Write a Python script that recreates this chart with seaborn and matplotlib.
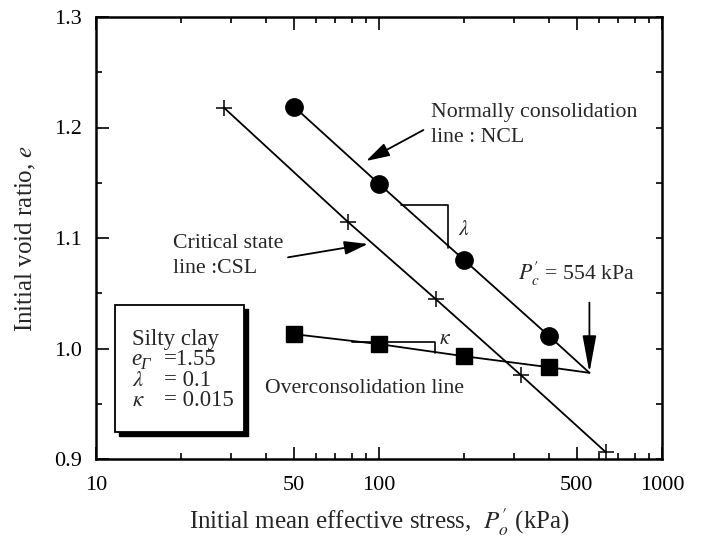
import numpy as np
import pandas as pd
import seaborn as sns
import matplotlib
matplotlib.use("Agg")
import matplotlib.pyplot as plt
from matplotlib.patches import Rectangle
from matplotlib.ticker import FixedLocator, NullFormatter, FixedFormatter

# ---------------- data ----------------
ncl_p = [50, 100, 200, 400]
ncl_e = [1.219, 1.149, 1.080, 1.011]
ocl_p = [50, 100, 200, 400]
ocl_e = [1.013, 1.004, 0.993, 0.983]
csl_p = [28.3, 77.7, 159, 317, 634]
csl_e = [1.218, 1.1145, 1.0445, 0.976, 0.906]
pc_p = 554
pc_e = 0.978
x_ticks = [10, 50, 100, 500, 1000]
x_tick_labels = ["10", "50", "100", "500", "1000"]
y_ticks = [0.9, 1.0, 1.1, 1.2, 1.3]
y_tick_labels = ["0.9", "1.0", "1.1", "1.2", "1.3"]
box_symbols = ["Silty clay", "", r"$\lambda$", r"$\kappa$"]
box_values = ["", "=1.55", "= 0.1", "= 0.015"]

sns.set_theme(style="ticks")
plt.rcParams["font.family"] = ["Liberation Serif", "DejaVu Serif"]
plt.rcParams["mathtext.fontset"] = "stix"

fig = plt.figure(figsize=(7.02, 5.40), dpi=100)
ax = fig.add_axes([96/702, 1-459/540, 566/702, 442/540])

lw = 1.3
ncl_line = pd.DataFrame({"p": ncl_p + [pc_p], "e": ncl_e + [pc_e]})
ocl_line = pd.DataFrame({"p": ocl_p + [pc_p], "e": ocl_e + [pc_e]})
csl_df = pd.DataFrame({"p": csl_p, "e": csl_e})
sns.lineplot(data=ncl_line, x="p", y="e", color="black", lw=lw, ax=ax, sort=False)
sns.lineplot(data=ocl_line, x="p", y="e", color="black", lw=lw, ax=ax, sort=False)
sns.lineplot(data=csl_df, x="p", y="e", color="black", lw=lw, ax=ax, sort=False)

ax.plot(ncl_p, ncl_e, ls="none", marker="o", ms=12.5, color="black", zorder=5)
ax.plot(ocl_p, ocl_e, ls="none", marker="s", ms=12, color="black", zorder=5)
ax.plot(csl_p, csl_e, ls="none", marker="+", ms=12, mew=1.1, color="black", zorder=5)

ax.set_xscale("log")
ax.set_xlim(10, 1000)
ax.set_ylim(0.9, 1.3)

ax.xaxis.set_major_locator(FixedLocator(x_ticks))
ax.xaxis.set_major_formatter(FixedFormatter(x_tick_labels))
minor_x = [v for d in (10, 100) for v in np.arange(2, 10) * d if v not in x_ticks]
ax.xaxis.set_minor_locator(FixedLocator(minor_x))
ax.xaxis.set_minor_formatter(NullFormatter())
ax.yaxis.set_major_locator(FixedLocator(y_ticks))
ax.yaxis.set_major_formatter(FixedFormatter(y_tick_labels))
ax.yaxis.set_minor_locator(FixedLocator([0.95, 1.05, 1.15, 1.25]))

ax.tick_params(which="both", direction="in", top=True, right=True, colors="black",
               labelsize=16, width=1.2)
ax.tick_params(axis="x", which="major", length=9, pad=12.5)
ax.tick_params(axis="y", which="major", length=9, pad=10)
ax.tick_params(which="minor", length=4.5)
for s in ax.spines.values():
    s.set_linewidth(1.8)
    s.set_color("black")
for t in ax.yaxis.get_major_ticks():
    t.tick2line.set_markersize(4.5)

ax.set_xlabel("Initial mean effective stress,  $P^{\\prime}_{o}$ (kPa)", fontsize=18)
ax.set_ylabel("Initial void ratio, $e$", fontsize=18)
ax.xaxis.label.set_va("baseline")
ax.xaxis.set_label_coords(0.5, (459-529)/442)
ax.yaxis.set_label_coords((38-96)/566, 0.5)

fs = 15.7
arrow_kw = dict(arrowstyle="-|>,head_length=1.2,head_width=0.35", color="black", lw=1.3,
                shrinkA=0, shrinkB=0)
# NCL
ax.annotate("", xy=(90, 1.1697), xytext=(143.5, 1.1977), arrowprops=arrow_kw)
ax.text(153, 1.2098, "Normally consolidation", fontsize=fs, va="baseline", ha="left")
ax.text(153, 1.1871, "line : NCL", fontsize=fs, va="baseline", ha="left")
# CSL
ax.annotate("", xy=(91.4, 1.0946), xytext=(47.7, 1.0825), arrowprops=arrow_kw)
ax.text(18.7, 1.0907, "Critical state", fontsize=fs, va="baseline", ha="left")
ax.text(18.7, 1.068, "line :CSL", fontsize=fs, va="baseline", ha="left")
# Pc
ax.annotate("", xy=(pc_p, pc_e), xytext=(pc_p, 1.0415),
            arrowprops=dict(arrowstyle="-|>,head_length=1.9,head_width=0.35",
                            color="black", lw=1.3, shrinkA=0, shrinkB=0))
ax.text(311, 1.062, "$P^{\\prime}_{c}$ = 554 kPa", fontsize=fs, va="baseline", ha="left")
# OCL label
ax.text(39.6, 0.9594, "Overconsolidation line", fontsize=fs, va="baseline", ha="left")

# lambda triangle
ax.plot([119.3, 174.9, 174.9], [1.1299, 1.1299, 1.0907], color="black", lw=1.2)
ax.text(190, 1.107, r"$\lambda$", fontsize=fs, va="center", ha="left")
# kappa triangle
ax.plot([80, 157.7, 157.7], [1.0062, 1.0062, 0.9957], color="black", lw=1.2)
ax.text(163, 1.0085, r"$\kappa$", fontsize=fs, va="center", ha="left")

# text box with shadow
bx0, bx1 = (115-96)/566, (244-96)/566
by0, by1 = (459-431.7)/442, (459-305)/442
dx, dy = 4/566, 4/442
ax.add_patch(Rectangle((bx0+dx, by0-dy), bx1-bx0, by1-by0, transform=ax.transAxes,
                       facecolor="black", edgecolor="black", zorder=6))
ax.add_patch(Rectangle((bx0, by0), bx1-bx0, by1-by0, transform=ax.transAxes,
                       facecolor="white", edgecolor="black", lw=1.3, zorder=7))
baselines = [345, 365, 386.5, 406.5]
tx = (131.5-96)/566
for sym, val, yb in zip(box_symbols, box_values, baselines):
    if sym:
        ax.text(tx, (459-yb)/442, sym, transform=ax.transAxes,
                fontsize=16.5, va="baseline", ha="left", zorder=8)
    if val:
        ax.text((164-96)/566, (459-yb)/442, val, transform=ax.transAxes,
                fontsize=16.5, va="baseline", ha="left", zorder=8)
# e_Gamma with italic Gamma subscript
ax.text(tx, (459-baselines[1])/442, "e", style="italic", transform=ax.transAxes,
        fontsize=16.5, va="baseline", ha="left", zorder=8)
ax.text(tx + 9/566, (459-baselines[1]-4)/442, "\u0393", style="italic",
        transform=ax.transAxes, fontsize=12, va="baseline", ha="left", zorder=8)

fig.savefig("out.png", dpi=100)
